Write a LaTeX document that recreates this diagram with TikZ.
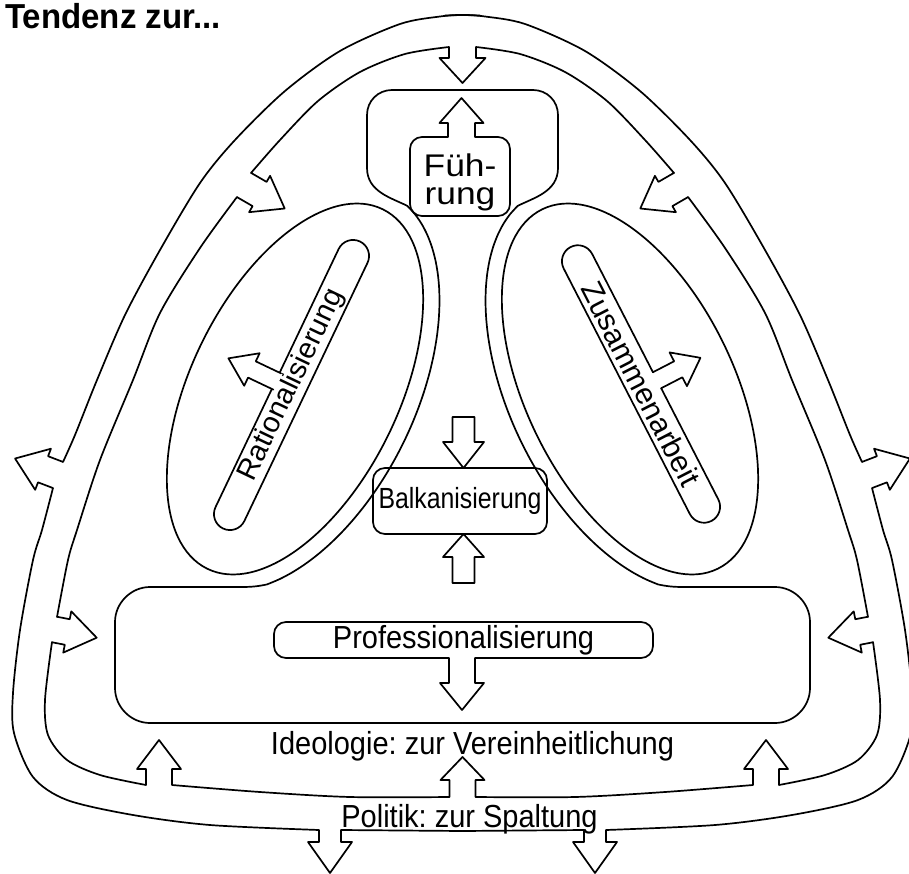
\documentclass[tikz,border=0pt]{standalone}
\usepackage{fontspec}
\setmainfont{Liberation Sans}
\usepackage{graphicx}
\usetikzlibrary{calc}
\frenchspacing

% arrow bump inserted into an outline: #1 base centre, #2 pointing angle,
% #3 side angle (first stem edge), #4 stem half width, #5 stem length,
% #6 head half width, #7 tip distance
\newcommand\bump[7]{%
  -- ($(#1)+(#3:#4)$)
  -- ($(#1)+(#3:#4)+(#2:#5)$)
  -- ($(#1)+(#3:#6)+(#2:#5)$)
  -- ($(#1)+(#2:#7)$)
  -- ($(#1)+(#3:-#6)+(#2:#5)$)
  -- ($(#1)+(#3:-#4)+(#2:#5)$)
  -- ($(#1)+(#3:-#4)$)}

% white patch over a box border where an arrow stem leaves it
\newcommand\stemgap[5]{%
  \fill[white] ($(#1)+(#3:#4)+(#2:-1.6)$) -- ($(#1)+(#3:#4)+(#2:#5)$)
    -- ($(#1)+(#3:-#4)+(#2:#5)$) -- ($(#1)+(#3:-#4)+(#2:-1.6)$) -- cycle;}

% slightly tall lettering
\newcommand\tall[1]{\scalebox{1}[1.1]{#1}}

% left halves of the symmetric outlines
\newcommand\halfLone{%
  plot[smooth] coordinates {(480,15.6) (462.5,15) (440,16.5) (400,24) (340,51)
    (285,91) (235,140) (200,183) (160,250) (125,315) (97,380) (75,435) (63,462)}
  \bump{58,475}{201}{291}{14}{16}{22}{46}
  -- plot[smooth] coordinates {(53,488) (42,530) (33,560) (20,630) (13,693)
    (14,733) (33,777) (67,800) (133,815) (210,825) (319,830)}
  \bump{330,830}{90}{180}{11}{12}{22}{43}
  -- (462.5,831)}

\newcommand\halfLtwo{%
  (462.5,83) -- (439.5,58) -- (449,58) -- (449,47)
  -- plot[smooth] coordinates {(449,47) (405,54) (360,72) (318,101) (280,140) (251,173)}
  \bump{244,185}{30}{300}{14}{18}{21}{47}
  -- plot[smooth] coordinates {(237,197) (200,248) (160,313) (133,380) (100,460)
    (77,530) (68,560) (57,617)}
  \bump{54.5,629.5}{11}{281}{13}{13}{21}{43}
  -- plot[smooth] coordinates {(52,642) (45,700) (48,735) (67,760) (100,775) (146,785)}
  \bump{159,785}{270}{180}{13}{16}{22}{45}
  -- plot[smooth] coordinates {(172,785) (260,792) (350,797) (449.5,797)}
  -- (449.5,780) -- (440.5,780) -- (462.5,757)}

\newcommand\halfLthree{%
  (462.5,90) -- (392,90) .. controls (378,90) and (367,101) .. (367,115) -- (367,168)
  .. controls (367,192) and (392,198) .. (407.5,206)
  -- plot[smooth, domain=-10:-150, samples=29, variable=\t]
     ({295+217*cos(64)*cos(\t)-121*sin(64)*sin(\t)},
      {389-217*sin(64)*cos(\t)-121*cos(64)*sin(\t)})
  .. controls (255,587) and (248,587) .. (238,587) -- (150,587)
  .. controls (131,587) and (115,603) .. (115,622) -- (115,688)
  .. controls (115,707) and (131,723) .. (150,723) -- (462.5,723)}

\newcommand\halfdrawing{%
  \draw[ln] \halfLone;
  \draw[ln] \halfLtwo;
  \draw[ln] \halfLthree;
  \draw[ln, rotate around={64:(295,389)}] (295,389) ellipse [x radius=200, y radius=104];}

\begin{document}
\begin{tikzpicture}[x=1pt, y=-1pt,
  ln/.style={line width=1.7pt, line join=round, line cap=round},
  box/.style={draw, line width=1.7pt, rounded corners=12, inner sep=0pt},
  txt/.style={inner sep=0pt, font=\fontsize{29}{34}\selectfont}]

\fill[white] (0,0) rectangle (909,874);
\useasboundingbox (0,0) rectangle (909,874);

% outer band, inner band, central frame and the two ovals
\halfdrawing
\begin{scope}[shift={(925,0)}, xscale=-1]
  \halfdrawing
\end{scope}

% Fuehrung
\node[box, minimum width=100, minimum height=79] (fbox) at (460,176.5) {};
\stemgap{461.5,137}{270}{180}{13.5}{14}
\draw[ln] (448,137) \bump{461.5,137}{270}{180}{13.5}{14}{22}{39};
\node[txt, align=center, font=\fontsize{29}{28}\selectfont] (ftext) at (460,182)
  {\scalebox{1.22}[1.08]{Füh-}\\\scalebox{1.22}[1.08]{rung}};

% Balkanisierung with its two arrows
\node[box, minimum width=174, minimum height=66] (balk) at (460,501)
  {\fontsize{27}{30}\selectfont\scalebox{0.92}[1.08]{Balkanisierung}};
\draw[ln] (452.5,417) -- (474.5,417) -- (474.5,442) -- (484,442) -- (463.5,468)
  -- (443,442) -- (452.5,442) -- cycle;
\draw[ln] (452.5,583) -- (474.5,583) -- (474.5,557) -- (484,557) -- (463.5,534)
  -- (443,557) -- (452.5,557) -- cycle;

% Professionalisierung
\node[box, minimum width=379, minimum height=36] (prof) at (463.5,640)
  {\fontsize{29}{34}\selectfont\tall{Professionalisierung}};
\stemgap{462,658}{90}{0}{13}{25}
\draw[ln] (475,658) \bump{462,658}{90}{0}{13}{25}{22}{52};

% the two slanted bars
\node[box, rounded corners=16, rotate=64.5, minimum width=318, minimum height=32]
  (rat) at (291.5,385) {\fontsize{29}{34}\selectfont Rationalisierung};
\stemgap{277.2,381.5}{205.4}{115.4}{9}{28}
\draw[ln] ($(277.2,381.5)+(115.4:9)$) \bump{277.2,381.5}{205.4}{115.4}{9}{28}{18}{54};

\node[box, rounded corners=16, rotate=-62.8, minimum width=308, minimum height=32]
  (zus) at (641,384) {\fontsize{30}{34}\selectfont Zusammenarbeit};
\stemgap{656.9,380.3}{-27.3}{62.7}{9}{24}
\draw[ln] ($(656.9,380.3)+(62.7:9)$) \bump{656.9,380.3}{-27.3}{62.7}{9}{24}{19}{49};

% labels
\node[anchor=base west, inner sep=0pt, font=\bfseries\fontsize{33}{36}\selectfont]
  (title) at (5,29) {\scalebox{1}[1.05]{Tendenz zur...}};
\node[txt, anchor=base] (ideo) at (472.5,754) {\tall{Ideologie: zur Vereinheitlichung}};
\node[txt, anchor=base] (pol) at (469.5,827) {\tall{Politik: zur Spaltung}};

\end{tikzpicture}
\end{document}
